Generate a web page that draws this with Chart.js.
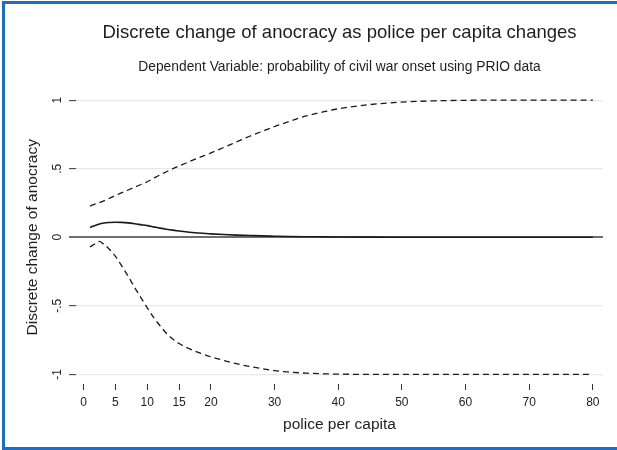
<!DOCTYPE html>
<html>
<head>
<meta charset="utf-8">
<script src="https://cdn.jsdelivr.net/npm/chart.js@4.4.1/dist/chart.umd.min.js"></script>
<style>
  html, body { margin: 0; padding: 0; background: #fff; }
  #wrap { position: relative; width: 617px; height: 450px; overflow: hidden; }
  #frame {
    position: absolute; left: 2px; top: 1px; width: 640px; height: 443px;
    border: 3px solid #1f6dc2; border-right: none; pointer-events: none;
  }
</style>
</head>
<body>
<div id="wrap">
  <canvas id="effectChart" width="617" height="450"></canvas>
  <div id="frame"></div>
</div>
<script>
'use strict';

// police per capita at which the effect was evaluated
const policeX = [1, 2, 2.5, 3, 4, 5, 6, 7, 8, 9, 10, 11, 12, 13, 14, 15, 16, 18, 20, 22,
  24, 26, 28, 30, 32, 35, 38, 40, 45, 50, 55, 60, 65, 70, 75, 80];

// discrete change of anocracy, with upper / lower bounds
const effect = [0.072, 0.09, 0.097, 0.102, 0.108, 0.11, 0.109, 0.105, 0.099, 0.092, 0.085,
  0.076, 0.067, 0.059, 0.052, 0.046, 0.04, 0.031, 0.025, 0.02, 0.016, 0.013, 0.01, 0.008,
  0.006, 0.004, 0.003, 0.002, 0.001, 0.0005, 0, 0, 0, 0, 0, 0];
const upperBound = [0.228, 0.245, 0.253, 0.262, 0.283, 0.305, 0.325, 0.345, 0.365, 0.385,
  0.405, 0.43, 0.455, 0.478, 0.5, 0.52, 0.54, 0.578, 0.615, 0.655, 0.695, 0.735, 0.772,
  0.808, 0.84, 0.885, 0.918, 0.937, 0.968, 0.986, 0.995, 0.999, 1, 1, 1, 1];
const lowerBound = [-0.07, -0.042, -0.03, -0.045, -0.085, -0.14, -0.21, -0.285, -0.365,
  -0.44, -0.515, -0.585, -0.645, -0.7, -0.742, -0.775, -0.8, -0.84, -0.872, -0.898, -0.922,
  -0.942, -0.958, -0.972, -0.982, -0.991, -0.996, -0.998, -1, -1, -1, -1, -1, -1, -1, -1];

// axis ticks
const xTicks = [0, 5, 10, 15, 20, 30, 40, 50, 60, 70, 80];
const yTicks = [-1, -0.5, 0, 0.5, 1];
const yTickLabels = ['-1', '-.5', '0', '.5', '1'];

const FONT = 'Arial, "Liberation Sans", Helvetica, sans-serif';

function points(ys) {
  return policeX.map((x, i) => ({ x: x, y: ys[i] }));
}

function lineSet(ys, dashed) {
  return {
    data: points(ys),
    borderColor: '#1a1a1a',
    borderWidth: dashed ? 1.3 : 1.6,
    borderDash: dashed ? [6, 4] : [],
    pointRadius: 0,
    fill: false,
    cubicInterpolationMode: 'monotone'
  };
}

// center title + subtitle over the plot area instead of the whole canvas
const centerTitles = {
  id: 'centerTitles',
  afterLayout(chart) {
    const area = chart.chartArea;
    chart.boxes.forEach(b => {
      if (!b.axis && b.position === 'top' && b.options && b.options.text) {
        b.left = area.left;
        b.right = area.right;
      }
    });
  }
};

const ctx = document.getElementById('effectChart').getContext('2d');
new Chart(ctx, {
  type: 'line',
  data: {
    datasets: [
      lineSet(upperBound, true),
      lineSet(effect, false),
      lineSet(lowerBound, true)
    ]
  },
  plugins: [centerTitles],
  options: {
    responsive: false,
    animation: false,
    layout: { padding: { left: 10, right: 14, top: 0, bottom: 6 } },
    plugins: {
      legend: { display: false },
      tooltip: { enabled: false },
      title: {
        display: true,
        text: 'Discrete change of anocracy as police per capita changes',
        color: '#1e1e1e',
        font: { family: FONT, size: 18.5, weight: 'normal' },
        padding: { top: 22, bottom: 0 }
      },
      subtitle: {
        display: true,
        text: 'Dependent Variable: probability of civil war onset using PRIO data',
        color: '#1e1e1e',
        font: { family: FONT, size: 13.8, weight: 'normal' },
        padding: { top: 14.5, bottom: 15.3 }
      }
    },
    scales: {
      x: {
        type: 'linear',
        min: -1.2,
        max: 81.6,
        afterBuildTicks: (scale) => { scale.ticks = xTicks.map(v => ({ value: v })); },
        afterFit: (scale) => { scale.height = 60; },
        border: { display: false },
        grid: {
          drawOnChartArea: false,
          drawTicks: true,
          tickLength: 6,
          tickColor: '#333',
          tickWidth: 1
        },
        ticks: {
          padding: 5.8,
          color: '#222',
          font: { family: FONT, size: 12 },
          maxRotation: 0,
          autoSkip: false
        },
        title: {
          display: true,
          text: 'police per capita',
          color: '#1e1e1e',
          font: { family: FONT, size: 15.5 },
          padding: { top: 0, bottom: 9.7 }
        }
      },
      y: {
        type: 'linear',
        min: -1.07,
        max: 1.07,
        afterBuildTicks: (scale) => { scale.ticks = yTicks.map(v => ({ value: v })); },
        afterFit: (scale) => { scale.width = 66; },
        border: { display: false },
        grid: {
          drawTicks: true,
          tickLength: 7,
          color: (c) => (c.tick && c.tick.value === 0 ? '#6e6e6e' : '#e8e8e8'),
          lineWidth: (c) => (c.tick && c.tick.value === 0 ? 2 : 1.3),
          tickColor: (c) => (c.tick && c.tick.value === 0 ? '#6e6e6e' : '#333'),
          tickWidth: (c) => (c.tick && c.tick.value === 0 ? 2 : 1)
        },
        ticks: {
          minRotation: 90,
          maxRotation: 90,
          crossAlign: 'center',
          padding: 4.5,
          color: '#222',
          font: { family: FONT, size: 12 },
          autoSkip: false,
          callback: (v) => {
            const i = yTicks.indexOf(v);
            return i >= 0 ? yTickLabels[i] : '';
          }
        },
        title: {
          display: true,
          text: 'Discrete change of anocracy',
          color: '#1e1e1e',
          font: { family: FONT, size: 15.5 },
          padding: { top: 13.7, bottom: 0 }
        }
      }
    }
  }
});
</script>
</body>
</html>
